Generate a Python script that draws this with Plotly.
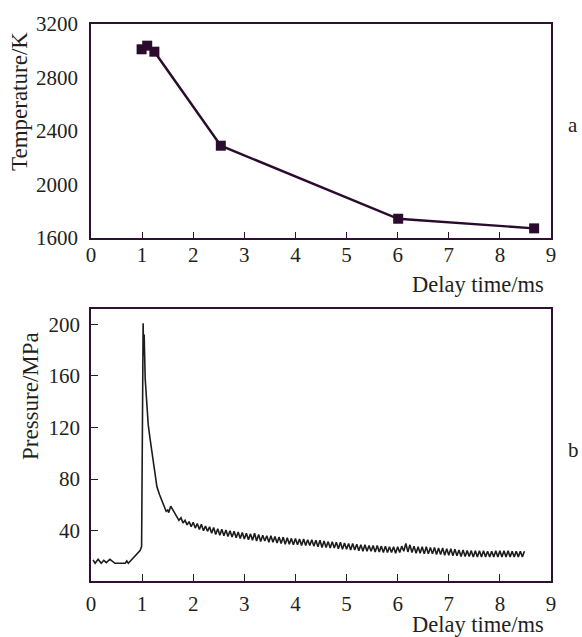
import plotly.graph_objects as go

# ---- Data: panel a (temperature) ----
delay_a = [0.99, 1.10, 1.24, 2.54, 6.01, 8.67]
temperature = [3011, 3038, 2993, 2290, 1744, 1672]

# ---- Data: panel b (pressure trace) ----
t_start = [0.04, 0.08, 0.14, 0.20, 0.25, 0.30, 0.37, 0.47, 0.67, 0.70,
           0.73, 0.85, 0.96, 0.99, 1.00, 1.01, 1.02, 1.03, 1.04, 1.06,
           1.09, 1.12, 1.16, 1.20, 1.25, 1.29, 1.34, 1.39, 1.44, 1.47, 1.50]
p_start = [17.3, 14.7, 17.8, 14.7, 17.0, 15.2, 17.8, 14.7, 14.7, 16.5,
           14.7, 19.5, 24.5, 27.6, 78.0, 80.0, 200.8, 176.0, 192.0, 158.0,
           137.0, 122.0, 110.0, 100.0, 86.0, 74.0, 68.0, 63.0, 58.0, 55.0, 56.0]

t_tail = [1.52, 1.56, 1.60, 1.64, 1.68, 1.72, 1.76, 1.80, 1.84, 1.88,
          1.92, 1.96, 2.00, 2.04, 2.08, 2.12, 2.16, 2.20, 2.24, 2.28,
          2.32, 2.36, 2.40, 2.44, 2.48, 2.52, 2.56, 2.60, 2.64, 2.68,
          2.72, 2.76, 2.80, 2.84, 2.88, 2.92, 2.96, 3.00, 3.04, 3.08,
          3.12, 3.16, 3.20, 3.24, 3.28, 3.32, 3.36, 3.40, 3.44, 3.48,
          3.52, 3.56, 3.60, 3.64, 3.68, 3.72, 3.76, 3.80, 3.84, 3.88,
          3.92, 3.96, 4.00, 4.04, 4.08, 4.12, 4.16, 4.20, 4.24, 4.28,
          4.32, 4.36, 4.40, 4.44, 4.48, 4.52, 4.56, 4.60, 4.64, 4.68,
          4.72, 4.76, 4.80, 4.84, 4.88, 4.92, 4.96, 5.00, 5.04, 5.08,
          5.12, 5.16, 5.20, 5.24, 5.28, 5.32, 5.36, 5.40, 5.44, 5.48,
          5.52, 5.56, 5.60, 5.64, 5.68, 5.72, 5.76, 5.80, 5.84, 5.88,
          5.92, 5.96, 6.00, 6.04, 6.08, 6.12, 6.16, 6.20, 6.24, 6.28,
          6.32, 6.36, 6.40, 6.44, 6.48, 6.52, 6.56, 6.60, 6.64, 6.68,
          6.72, 6.76, 6.80, 6.84, 6.88, 6.92, 6.96, 7.00, 7.04, 7.08,
          7.12, 7.16, 7.20, 7.24, 7.28, 7.32, 7.36, 7.40, 7.44, 7.48,
          7.52, 7.56, 7.60, 7.64, 7.68, 7.72, 7.76, 7.80, 7.84, 7.88,
          7.92, 7.96, 8.00, 8.04, 8.08, 8.12, 8.16, 8.20, 8.24, 8.28,
          8.32, 8.36, 8.40, 8.44, 8.48]
p_tail = [54.0, 59.0, 56.0, 53.0, 51.0, 48.0, 50.0, 46.0, 48.0, 44.5,
          47.0, 43.0, 46.5, 42.0, 45.5, 41.0, 45.0, 40.0, 43.5, 39.5,
          43.0, 38.0, 42.5, 37.0, 41.5, 36.5, 41.0, 36.0, 40.5, 35.5,
          40.0, 35.0, 39.5, 34.5, 39.0, 34.0, 38.5, 33.5, 38.0, 33.0,
          37.5, 32.5, 38.0, 32.0, 37.0, 31.5, 36.5, 32.0, 36.0, 31.0,
          36.0, 31.0, 35.5, 30.5, 35.0, 30.0, 35.0, 29.5, 34.5, 29.5,
          34.0, 29.0, 34.0, 29.0, 33.5, 28.5, 33.5, 28.5, 33.0, 28.5,
          33.0, 28.0, 32.5, 27.5, 32.5, 27.0, 32.0, 27.0, 31.5, 26.5,
          31.5, 26.5, 31.0, 26.0, 31.0, 25.5, 30.5, 25.5, 30.0, 25.0,
          30.0, 25.0, 29.5, 24.5, 29.0, 24.0, 29.0, 24.0, 28.5, 24.0,
          28.5, 23.5, 28.5, 23.5, 28.0, 23.0, 28.0, 23.0, 27.5, 23.0,
          27.5, 22.5, 27.5, 23.0, 28.0, 24.0, 30.0, 23.5, 29.0, 23.0,
          28.0, 22.5, 27.5, 22.5, 27.5, 22.0, 27.5, 22.0, 27.0, 22.0,
          27.0, 21.5, 26.5, 21.5, 26.5, 21.0, 26.0, 21.0, 26.0, 20.5,
          25.5, 20.5, 25.0, 20.0, 25.0, 20.0, 24.5, 20.0, 24.5, 19.5,
          24.5, 19.5, 24.5, 19.5, 24.5, 19.5, 24.0, 19.5, 24.0, 19.5,
          24.5, 19.5, 24.5, 19.5, 24.5, 19.5, 24.5, 19.5, 24.0, 19.5,
          24.0, 19.5, 24.0, 19.5, 24.0]

x_ticks = [0, 1, 2, 3, 4, 5, 6, 7, 8, 9]
temp_ticks = [1600, 2000, 2400, 2800, 3200]
press_ticks = [40, 80, 120, 160, 200]

W, H = 582, 637
FONT = "Liberation Serif"
TXT = "#231f20"
FRAME = "#2e1030"
PURPLE = "#2a0b2d"

fig = go.Figure()
fig.add_trace(go.Scatter(x=delay_a, y=temperature, mode="lines+markers",
                         line=dict(color=PURPLE, width=2.4),
                         marker=dict(symbol="square", size=10, color=PURPLE),
                         xaxis="x", yaxis="y", showlegend=False))
fig.add_trace(go.Scatter(x=t_start + t_tail, y=p_start + p_tail, mode="lines",
                         line=dict(color="#1c1c1c", width=1.6),
                         xaxis="x2", yaxis="y2", showlegend=False))

def px_x(p):
    return p / W

def px_y(p):
    return 1 - p / H

common = dict(showline=True, linecolor=FRAME, linewidth=1.5, mirror=True,
              showgrid=False, zeroline=False, automargin=False,
              tickfont=dict(family=FONT, size=21, color=TXT))

fig.update_layout(
    width=W, height=H, margin=dict(l=0, r=0, t=0, b=0, autoexpand=False),
    paper_bgcolor="white", plot_bgcolor="white",
    xaxis=dict(domain=[px_x(91), px_x(551)], range=[0, 9], anchor="y",
               tickvals=x_ticks, ticks="inside", ticklen=6, tickcolor=FRAME,
               ticklabelstandoff=-3, **common),
    yaxis=dict(domain=[px_y(238), px_y(24)], range=[1600, 3200], anchor="x",
               tickvals=temp_ticks, ticks="", ticklabelstandoff=7, **common),
    xaxis2=dict(domain=[px_x(91), px_x(551)], range=[0, 9], anchor="y2",
                tickvals=x_ticks, ticks="inside", ticklen=7, tickcolor="#222",
                ticklabelstandoff=3, **common),
    yaxis2=dict(domain=[px_y(580.7), px_y(309.3)], range=[1.2, 211.6], anchor="x2",
                tickvals=press_ticks, ticks="inside", ticklen=7, tickcolor="#222",
                ticklabelstandoff=5, **common),
)

anns = [
    dict(text="Temperature/K", x=px_x(20), y=px_y(102), textangle=-90, size=23),
    dict(text="Pressure/MPa", x=px_x(30), y=px_y(396), textangle=-90, size=23),
    dict(text="Delay time/ms", x=px_x(478), y=px_y(285), size=22.5),
    dict(text="Delay time/ms", x=px_x(478), y=px_y(624), size=22.5),
    dict(text="a", x=px_x(573), y=px_y(125), size=21),
    dict(text="b", x=px_x(573), y=px_y(450), size=21),
]
for a in anns:
    size = a.pop("size")
    fig.add_annotation(xref="paper", yref="paper", xanchor="center", yanchor="middle",
                       showarrow=False, font=dict(family=FONT, size=size, color=TXT), **a)

fig.write_html("out.html")
